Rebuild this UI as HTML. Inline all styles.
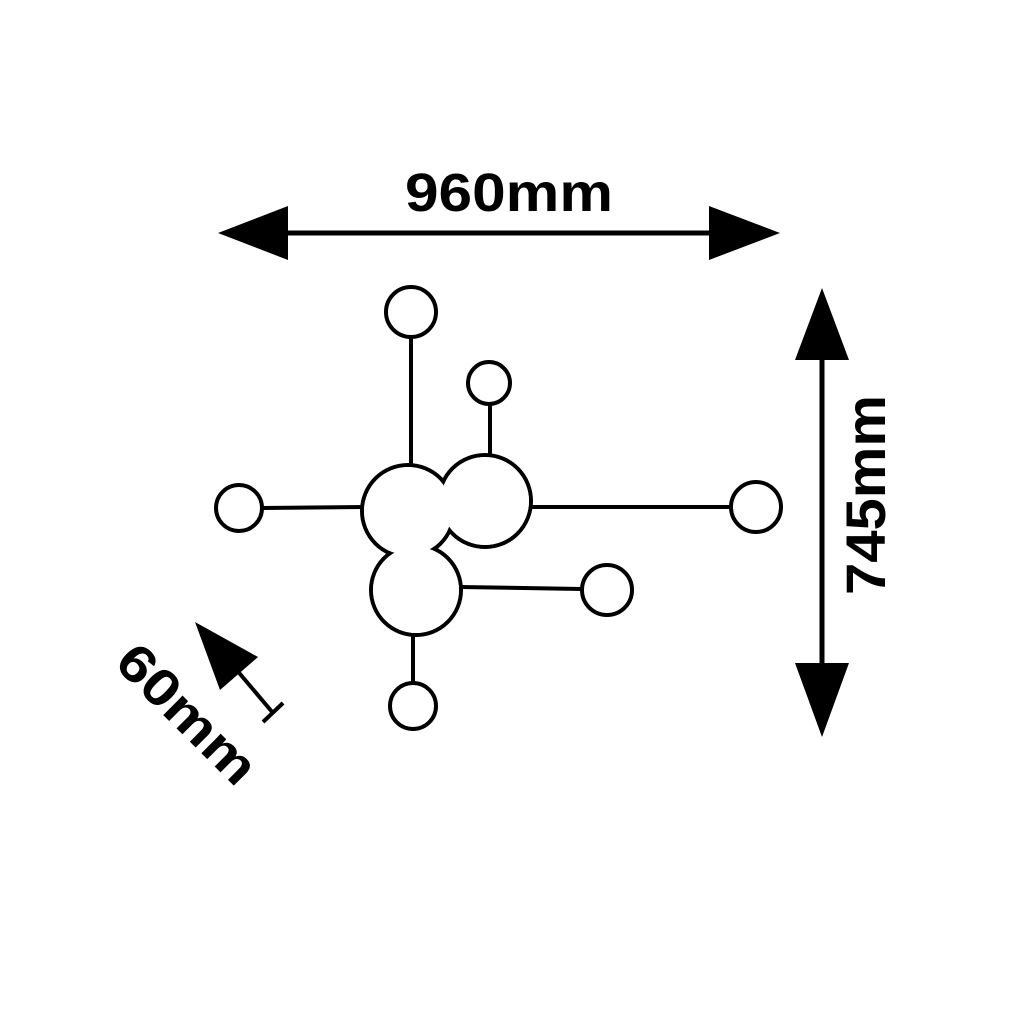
<!DOCTYPE html>
<html><head><style>html,body{margin:0;padding:0;background:#fff;}svg{display:block}</style></head>
<body>
<svg width="1010" height="1010" viewBox="0 0 1010 1010" xmlns="http://www.w3.org/2000/svg">
<rect width="1010" height="1010" fill="#fff"/>
<g stroke="#000" stroke-width="4" fill="none">
<line x1="411" y1="336" x2="411" y2="468"/>
<line x1="490" y1="404" x2="490" y2="458"/>
<line x1="262" y1="508" x2="364" y2="507"/>
<line x1="529" y1="507" x2="731" y2="507"/>
<line x1="460" y1="587" x2="582" y2="589"/>
<line x1="413" y1="633" x2="413" y2="683"/>
</g>
<g stroke="#000" stroke-width="4" fill="#fff">
<circle cx="411" cy="312" r="25"/>
<circle cx="489" cy="383" r="21"/>
<circle cx="239" cy="508" r="23"/>
<circle cx="756" cy="507" r="25"/>
<circle cx="607" cy="590" r="25"/>
<circle cx="413" cy="706" r="23"/>
<circle cx="408" cy="511" r="46"/>
<circle cx="485" cy="501" r="46"/>
<circle cx="416" cy="590" r="45"/>
</g>
<g fill="#fff">
<circle cx="408" cy="511" r="44"/>
<circle cx="485" cy="501" r="44"/>
<circle cx="416" cy="590" r="43"/>
</g>
<!-- horizontal dimension -->
<line x1="260" y1="233" x2="740" y2="233" stroke="#000" stroke-width="5"/>
<polygon points="218,233 288,206 288,260" fill="#000"/>
<polygon points="780,233 709,206 709,260" fill="#000"/>
<text x="509" y="211" font-family="Liberation Sans, sans-serif" font-weight="bold" font-size="54" text-anchor="middle" textLength="208" lengthAdjust="spacingAndGlyphs">960mm</text>
<!-- vertical dimension -->
<line x1="822" y1="330" x2="822" y2="700" stroke="#000" stroke-width="5"/>
<polygon points="822,288 795,360 849,360" fill="#000"/>
<polygon points="822,737 795,663 849,663" fill="#000"/>
<text transform="translate(885,495) rotate(-90)" font-family="Liberation Sans, sans-serif" font-weight="bold" font-size="56" text-anchor="middle" textLength="200" lengthAdjust="spacingAndGlyphs">745mm</text>
<!-- 60mm -->
<line x1="235" y1="668" x2="273" y2="713" stroke="#000" stroke-width="4"/>
<line x1="263" y1="722" x2="283" y2="703" stroke="#000" stroke-width="4"/>
<polygon points="195,622 258,657 220,690" fill="#000"/>
<text transform="translate(188,713) rotate(45)" y="19" font-family="Liberation Sans, sans-serif" font-weight="bold" font-size="52" text-anchor="middle" textLength="175" lengthAdjust="spacingAndGlyphs">60mm</text>
</svg>
</body></html>
